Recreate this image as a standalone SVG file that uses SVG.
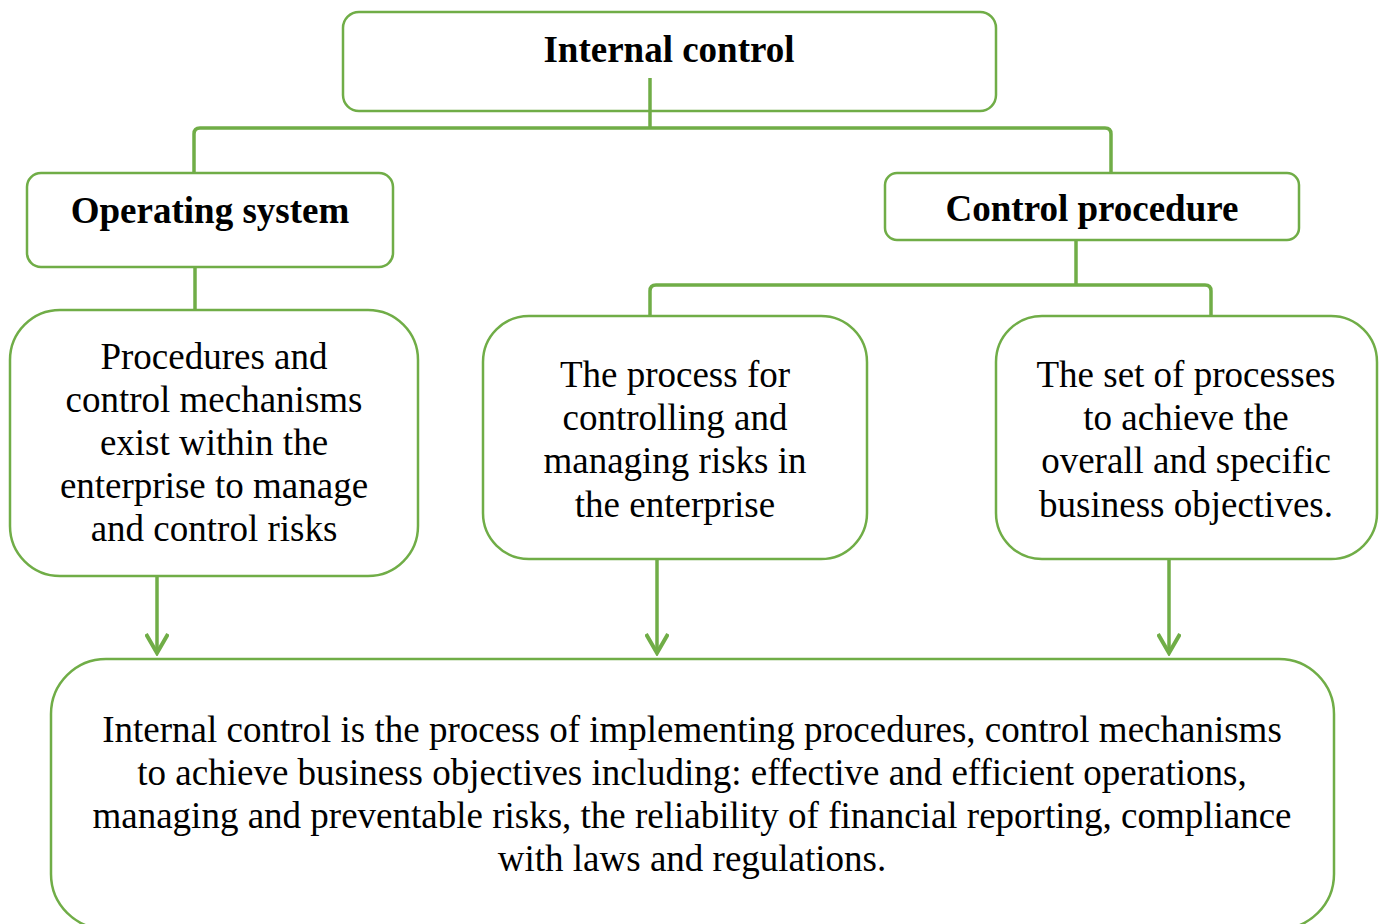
<svg xmlns="http://www.w3.org/2000/svg" width="1381" height="924" viewBox="0 0 1381 924">
  <defs>
    <style>
      .box { fill: #ffffff; stroke: #70AD47; stroke-width: 2.5; }
      .link { fill: none; stroke: #70AD47; stroke-width: 3.5; }
      .title { font-family: "Liberation Serif", "Times New Roman", serif; font-weight: bold; font-size: 37px; fill: #000; text-anchor: middle; }
      .body { font-family: "Liberation Serif", "Times New Roman", serif; font-size: 37px; fill: #000; text-anchor: middle; }
    </style>
    <!-- open chevron arrowhead, drawn pointing along +x -->
    <marker id="chevron" viewBox="0 0 24 24" refX="21" refY="12" markerWidth="24" markerHeight="24" markerUnits="userSpaceOnUse" orient="auto">
      <path d="M2 1 L21 12 L2 23" fill="none" stroke="#70AD47" stroke-width="4" stroke-linejoin="miter"/>
    </marker>
  </defs>

  <!-- connectors -->
  <g id="connectors">
    <path class="link" d="M194 173 V134 Q194 128 200 128 H1105 Q1111 128 1111 134 V173"/>
    <path class="link" d="M195 267 V310"/>
    <path class="link" d="M1076 240 V285"/>
    <path class="link" d="M650 316 V291 Q650 285 656 285 H1205 Q1211 285 1211 291 V316"/>
    <path class="link" d="M157 573 V653" marker-end="url(#chevron)"/>
    <path class="link" d="M657 558 V653" marker-end="url(#chevron)"/>
    <path class="link" d="M1169 557 V653" marker-end="url(#chevron)"/>
  </g>

  <g id="internal-control">
    <rect class="box" x="343" y="12" width="653" height="99" rx="16"/>
    <text class="title" x="669" y="62">Internal control</text>
    <!-- stem leaving the box downwards -->
    <path class="link" d="M650 78 V128"/>
  </g>

  <g id="operating-system">
    <rect class="box" x="27" y="173" width="366" height="94" rx="14"/>
    <text class="title" x="210" y="223">Operating system</text>
  </g>

  <g id="control-procedure">
    <rect class="box" x="885" y="173" width="414" height="67" rx="12"/>
    <text class="title" x="1092" y="221">Control procedure</text>
  </g>

  <g id="mechanisms">
    <rect class="box" x="10" y="310" width="408" height="266" rx="50"/>
    <text class="body" x="214" y="369">Procedures and</text>
    <text class="body" x="214" y="412">control mechanisms</text>
    <text class="body" x="214" y="455">exist within the</text>
    <text class="body" x="214" y="498">enterprise to manage</text>
    <text class="body" x="214" y="541">and control risks</text>
  </g>

  <g id="risk-process">
    <rect class="box" x="483" y="316" width="384" height="243" rx="46"/>
    <text class="body" x="675" y="387">The process for</text>
    <text class="body" x="675" y="430">controlling and</text>
    <text class="body" x="675" y="473">managing risks in</text>
    <text class="body" x="675" y="517">the enterprise</text>
  </g>

  <g id="objectives">
    <rect class="box" x="996" y="316" width="381" height="243" rx="46"/>
    <text class="body" x="1186" y="387">The set of processes</text>
    <text class="body" x="1186" y="430">to achieve the</text>
    <text class="body" x="1186" y="473">overall and specific</text>
    <text class="body" x="1186" y="517">business objectives.</text>
  </g>

  <g id="definition">
    <rect class="box" x="51" y="659" width="1283" height="270" rx="55"/>
    <text class="body" x="692" y="742">Internal control is the process of implementing procedures, control mechanisms</text>
    <text class="body" x="692" y="785">to achieve business objectives including: effective and efficient operations,</text>
    <text class="body" x="692" y="828">managing and preventable risks, the reliability of financial reporting, compliance</text>
    <text class="body" x="692" y="871">with laws and regulations.</text>
  </g>
</svg>
